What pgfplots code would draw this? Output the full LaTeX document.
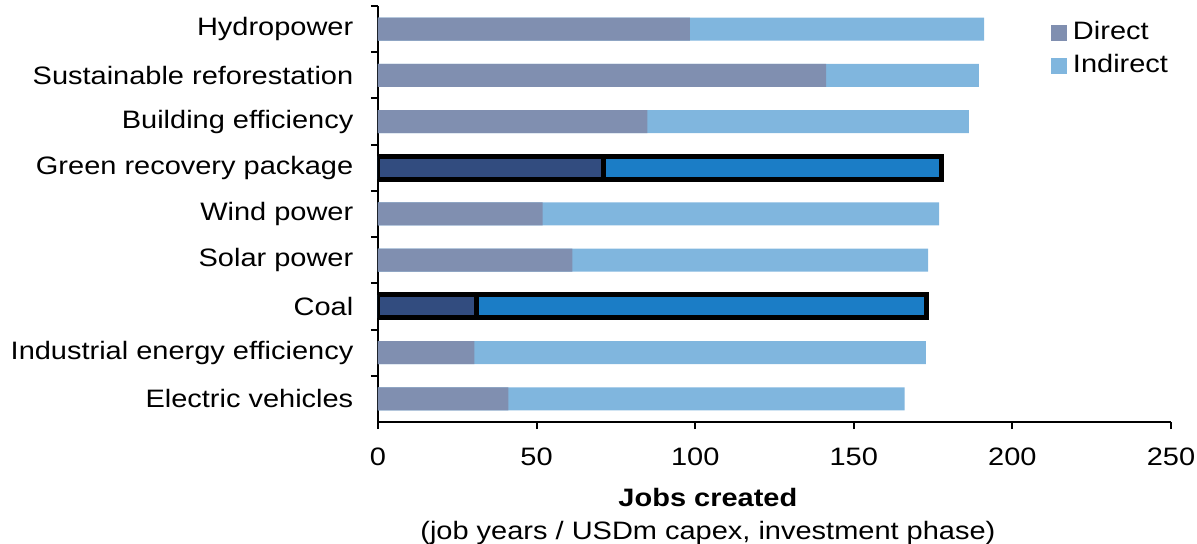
\documentclass[border=0pt]{standalone}
\usepackage{pgfplots}
\pgfplotsset{compat=1.18}
\usepackage{fontspec}
\setmainfont{Liberation Sans}
\definecolor{dirL}{HTML}{808FB0}
\definecolor{indL}{HTML}{80B6DE}
\definecolor{dirD}{HTML}{324C7F}
\definecolor{indD}{HTML}{1B7DC6}
\begin{document}
\fontsize{12.6}{16.5}\selectfont
\begin{tikzpicture}
\path[use as bounding box] (-189pt,-61pt) rectangle (409.5pt,211pt);
\begin{axis}[
  at={(0pt,0pt)}, anchor=south west,
  scale only axis, width=396.5pt, height=208pt,
  xmin=0, xmax=250, ymin=-0.5, ymax=8.5, y dir=reverse,
  axis x line*=bottom, axis y line*=left,
  axis line style={-, line width=1pt},
  every tick/.style={black, line width=1pt},
  tick align=outside, major tick length=3.5pt,
  xtick={0,50,...,250},
  ytick={-0.5,0.5,...,7.5},
  yticklabels={Hydropower,Sustainable reforestation,Building efficiency,Green recovery package,Wind power,Solar power,Coal,Industrial energy efficiency,Electric vehicles},
  yticklabel style={yshift=-11.56pt, xshift=-3.3pt},
  xticklabel style={yshift=-5pt},
  /pgf/number format/assume math mode=true,
  tick label style={font=\fontsize{12.6}{16.5}\selectfont, xscale=1.15},
  xlabel={\textbf{Jobs created}\\(job years / USDm capex, investment phase)},
  xlabel style={align=center, at={(ticklabel cs:0.416)}, anchor=north, yshift=-2.5pt,
    font=\fontsize{12.6}{16.5}\selectfont, xscale=1.15},
  legend style={at={(1.004,0.973)}, anchor=north east, draw=none, fill=none, inner sep=0pt,
    font=\fontsize{12.6}{16.5}\selectfont, row sep=1.5pt, nodes={xscale=1.15, inner xsep=2.5pt}},
  legend cell align=left,
  legend image code/.code={\fill[#1] (0pt,-3.75pt) rectangle (7.5pt,3.75pt);},
]
\addlegendimage{dirL}
\addlegendentry{Direct}
\addlegendimage{indL}
\addlegendentry{Indirect}
% totals (light)
\addplot[forget plot, xbar, bar width=11.5pt, bar shift=0pt, fill=indL, draw=none] coordinates {
 (191.1,0) (189.4,1) (186.3,2) (176.9,4) (173.4,5) (172.7,7) (166.0,8)};
% direct (light)
\addplot[forget plot, xbar, bar width=11.5pt, bar shift=0pt, fill=dirL, draw=none] coordinates {
 (98.3,0) (141.3,1) (84.9,2) (51.9,4) (61.3,5) (30.4,7) (41.1,8)};
% totals (highlighted)
\addplot[forget plot, xbar, bar width=11.5pt, bar shift=0pt, fill=indD, draw=black, line width=2.5pt] coordinates {
 (177.6,3) (173.0,6)};
% direct (highlighted)
\addplot[forget plot, xbar, bar width=11.5pt, bar shift=0pt, fill=dirD, draw=black, line width=2.5pt] coordinates {
 (71.1,3) (31.1,6)};
\end{axis}
\end{tikzpicture}
\end{document}
